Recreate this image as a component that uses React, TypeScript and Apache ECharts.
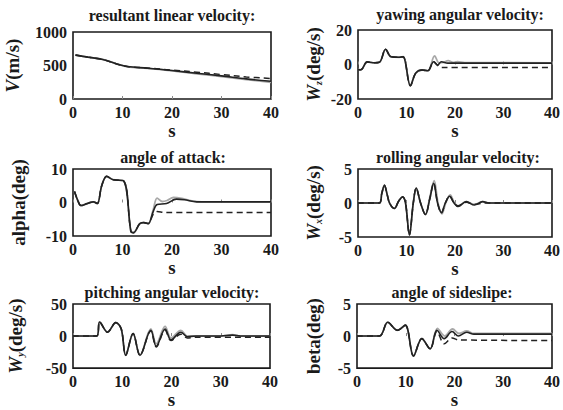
import React, { useEffect, useRef } from "react";
import * as echarts from "echarts";

// ---- data (time s, value) ----
const xTicks = [0, 10, 20, 30, 40];

const vSolid = [[0.5,655],[3,625],[6,590],[9,520],[11,485],[15,460],[20,425],[25,385],[30,345],[35,300],[40,265]];
const vGray = [[0.5,655],[3,625],[6,590],[9,520],[11,480],[15,458],[20,420],[25,375],[30,335],[35,290],[40,250]];
const vDash = [[0.5,655],[3,625],[6,590],[9,520],[11,485],[15,462],[20,432],[25,400],[30,365],[35,330],[40,305]];

const wzSolid = [[0,-3],[0.6,-3],[1.9,1.5],[3.1,1],[4.4,1.3],[5.7,8.8],[6.8,4.5],[8.5,4.2],[9.3,4.5],[10.8,-12.3],[11.9,-5],[13.2,-3.2],[14.4,-3.6],[15.6,1.6],[16.4,-0.3],[17.2,1.6],[18.5,0.8],[40,0.8]];
const wzGray = [[0,-3],[0.6,-3],[1.9,1.5],[3.1,1],[4.4,1.3],[5.7,8.8],[6.8,4.5],[8.5,4.2],[9.3,4.5],[10.8,-12.3],[11.9,-5],[13.2,-3.2],[14.4,-3.6],[15.8,5],[16.7,1],[17.6,1.2],[18.6,2.2],[19.6,1.2],[20.5,1.6],[22,1.1],[40,1]];
const wzDash = [[0,-3],[0.6,-3],[1.9,1.5],[3.1,1],[4.4,1.3],[5.7,8.8],[6.8,4.5],[8.5,4.2],[9.3,4.5],[10.8,-12.3],[11.9,-5],[13.2,-3.2],[14.4,-3.6],[15.6,1.6],[16.4,-0.5],[17.2,-1.8],[40,-1.8]];

const aSolid = [[0.3,3.3],[1,0.5],[1.6,-0.9],[2.9,-0.3],[4.1,0.2],[4.9,-0.3],[5.8,5],[6.8,7.8],[8.1,6.8],[10.2,6.5],[11.7,-8.7],[12.2,-9],[13.5,-6.3],[14.3,-6],[15.2,-6.3],[16.2,-2.7],[17,-0.6],[18.9,-0.3],[20.9,1],[22.5,0.8],[25,0.2],[40,0.2]];
const aGray = [[0.3,3.3],[1,0.5],[1.6,-0.9],[2.9,-0.3],[4.1,0.2],[4.9,-0.3],[5.8,5],[6.8,7.8],[8.1,6.8],[10.2,6.5],[11.7,-8.7],[12.2,-9],[13.5,-6.3],[14.3,-6],[15.2,-6.3],[16.2,-2.2],[17,1.3],[18,0.3],[19,0.6],[20.3,1.5],[22,1.2],[24,0.5],[26,0.2],[40,0.2]];
const aDash = [[0.3,3.3],[1,0.5],[1.6,-0.9],[2.9,-0.3],[4.1,0.2],[4.9,-0.3],[5.8,5],[6.8,7.8],[8.1,6.8],[10.2,6.5],[11.7,-8.7],[12.2,-9],[13.5,-6.3],[14.3,-6],[15.2,-6.3],[16.2,-3.5],[17,-2.7],[18.5,-3],[40,-3]];

const wxSolid = [[0,0],[4.4,0],[4.9,1.4],[5.45,2.6],[6,1.3],[6.5,0],[7.5,-0.8],[8.4,0.3],[9.2,0.9],[9.8,0],[10.6,-4.7],[11.4,0],[12,2.2],[12.9,0],[13.9,-1.7],[14.8,0.6],[15.6,2.9],[16.4,0],[17.2,-1.4],[18,0],[18.9,1],[19.8,0],[20.6,-0.5],[22.3,0.2],[24,-0.3],[25.7,0.2],[27,0],[40,0]];
const wxGray = [[0,0],[4.4,0],[4.9,1.4],[5.45,2.6],[6,1.3],[6.5,0],[7.5,-0.8],[8.4,0.3],[9.2,0.9],[9.8,0],[10.6,-4.7],[11.4,0],[12,2.2],[12.9,0],[13.9,-1.7],[14.8,0.8],[15.7,3.3],[16.5,0],[17.3,-1.6],[18.1,0],[19,1.2],[19.9,0],[20.7,-0.5],[22.3,0.2],[24,-0.2],[25.7,0.2],[27,0],[40,0]];
const wxDash = [[0,0],[4.4,0],[4.9,1.4],[5.45,2.6],[6,1.3],[6.5,0],[7.5,-0.8],[8.4,0.3],[9.2,0.9],[9.8,0],[10.6,-4.7],[11.4,0],[12,2.2],[12.9,0],[13.9,-1.7],[14.8,0.6],[15.6,2.9],[16.4,0],[17.2,-1.5],[18,0],[18.9,1],[19.8,0],[20.6,-0.4],[22.3,0.1],[24,-0.2],[26,0],[40,0]];

const wySolid = [[0,0],[4.8,0],[5.4,22],[7,6],[8.7,21],[9.8,11],[10.7,-30],[12.2,4],[13.6,-30],[15.8,9],[16.9,-16],[18.7,11],[19.9,-6],[21.9,6],[23.2,-1],[25,0],[30,0],[32.4,1.5],[34,0],[40,0]];
const wyGray = [[0,0],[4.8,0],[5.4,22],[7,6],[8.7,21],[9.8,11],[10.7,-30],[12.2,4],[13.6,-30],[15.8,11],[16.9,-12],[18.7,15],[19.9,-3],[21.9,9],[23.2,0],[25,0],[30,0],[32.4,2],[34,0],[40,0]];
const wyDash = [[0,0],[4.8,0],[5.4,22],[7,6],[8.7,21],[9.8,11],[10.7,-30],[12.2,4],[13.6,-30],[15.8,8],[16.9,-17],[18.7,9],[19.9,-7],[21.9,3],[23.2,-3],[25,-2],[40,-2]];

const bSolid = [[0,0],[4.6,0],[6.3,2.15],[8.3,0.9],[9.9,1.7],[11.6,-3.1],[13.3,-0.4],[15,-2],[16.4,0.9],[17.9,-0.4],[19.5,0.7],[20.8,0],[22.5,0.6],[24,0.3],[40,0.3]];
const bGray = [[0,0],[4.6,0],[6.3,2.15],[8.3,0.9],[9.9,1.7],[11.6,-3.1],[13.3,-0.4],[15,-2],[16.5,1.2],[18,0],[19.6,1.1],[20.9,0.4],[22.5,0.8],[24,0.4],[40,0.4]];
const bDash = [[0,0],[4.6,0],[6.3,2.15],[8.3,0.9],[9.9,1.7],[11.6,-3.1],[13.3,-0.4],[15,-2],[16.4,0.7],[17.9,-1.2],[19.5,-0.3],[20.8,-0.6],[40,-0.7]];

const titles = [
  "resultant linear velocity:",
  "yawing angular velocity:",
  "angle of attack:",
  "rolling angular velocity:",
  "pitching angular velocity:",
  "angle of sideslipe:",
];
const yNames = [
  "{i|V}(m/s)",
  "{i|W}{sub|z}(deg/s)",
  "alpha(deg)",
  "{i|W}{sub|x}(deg/s)",
  "{i|W}{sub|y}(deg/s)",
  "beta(deg)",
];
const yRanges = [[0, 1000, 500], [-20, 20, 20], [-10, 10, 10], [-5, 5, 5], [-50, 50, 50], [-5, 5, 5]];
const seriesData = [
  [vSolid, vGray, vDash],
  [wzSolid, wzGray, wzDash],
  [aSolid, aGray, aDash],
  [wxSolid, wxGray, wxDash],
  [wySolid, wyGray, wyDash],
  [bSolid, bGray, bDash],
];

// ---- layout ----
const grids = [
  { left: 73, top: 32, width: 198, height: 67 },
  { left: 358, top: 30, width: 198, height: 69 },
  { left: 73, top: 169, width: 198, height: 67 },
  { left: 358, top: 169, width: 199, height: 68 },
  { left: 73, top: 304, width: 197, height: 67 },
  { left: 357, top: 304, width: 197, height: 68 },
];
const yNameGaps = [51, 35, 45, 35, 48, 34];
const titlePos = [[172, 15], [460, 14], [173, 157], [458, 157], [172, 292], [452, 292]];

const FONT = "Liberation Serif";
const INK = "#1a1a1a";

export default function App() {
  const ref = useRef<HTMLDivElement>(null);
  useEffect(() => {
    if (!ref.current) return;
    const chart = echarts.init(ref.current, null, { renderer: "svg" });
    const styles = [
      { color: "#222", width: 1.6, type: "solid" },
      { color: "#a8a8a8", width: 1.8, type: "solid" },
      { color: "#222", width: 1.5, type: [6, 4] },
    ];
    const series: any[] = [];
    seriesData.forEach((group, gi) => {
      [1, 2, 0].forEach((si) => {
        series.push({
          type: "line",
          xAxisIndex: gi,
          yAxisIndex: gi,
          data: group[si],
          showSymbol: false,
          smooth: 0.35,
          lineStyle: styles[si],
          z: si === 0 ? 4 : 3,
        });
      });
    });
    const richName = {
      i: { fontFamily: FONT, fontWeight: "bold", fontStyle: "italic", fontSize: 19, color: INK },
      sub: { fontFamily: FONT, fontWeight: "bold", fontStyle: "italic", fontSize: 10, color: INK, verticalAlign: "bottom" },
    };
    const option: any = {
      animation: false,
      backgroundColor: "#fff",
      grid: grids.map((g) => ({ ...g, show: true, borderColor: INK, borderWidth: 1.6, backgroundColor: "transparent" })),
      xAxis: grids.map((_, i) => ({
        type: "value",
        gridIndex: i,
        min: xTicks[0],
        max: xTicks[xTicks.length - 1],
        interval: 10,
        name: "s",
        nameLocation: "middle",
        nameGap: 19,
        nameTextStyle: { fontFamily: FONT, fontWeight: "bold", fontSize: 19, color: INK },
        axisLine: { show: false },
        axisTick: { show: true, inside: true, length: 3, lineStyle: { color: "#888" } },
        splitLine: { show: false },
        axisLabel: { fontFamily: FONT, fontWeight: "bold", fontSize: 16, color: INK, margin: 5 },
      })),
      yAxis: grids.map((_, i) => ({
        type: "value",
        gridIndex: i,
        min: yRanges[i][0],
        max: yRanges[i][1],
        interval: yRanges[i][2],
        name: yNames[i],
        nameLocation: "middle",
        nameRotate: 90,
        nameGap: yNameGaps[i],
        nameTextStyle: { fontFamily: FONT, fontWeight: "bold", fontSize: 19, color: INK, rich: richName },
        axisLine: { show: false },
        axisTick: { show: false },
        splitLine: { show: false },
        axisLabel: {
          fontFamily: FONT,
          fontWeight: "bold",
          fontSize: 16,
          color: INK,
          margin: 6,
          formatter: (v: number) => String(v),
        },
      })),
      graphic: titles.map((t, i) => ({
        type: "text",
        x: titlePos[i][0],
        y: titlePos[i][1],
        style: {
          text: t,
          fontFamily: FONT,
          fontWeight: "bold",
          fontSize: 16,
          fill: INK,
          textAlign: "center",
          textVerticalAlign: "middle",
        },
      })),
      series,
    };
    chart.setOption(option);
    return () => chart.dispose();
  }, []);
  return (
    <div
      ref={ref}
      style={{ position: "fixed", left: 0, top: 0, width: 563, height: 410, background: "#fff" }}
    />
  );
}
